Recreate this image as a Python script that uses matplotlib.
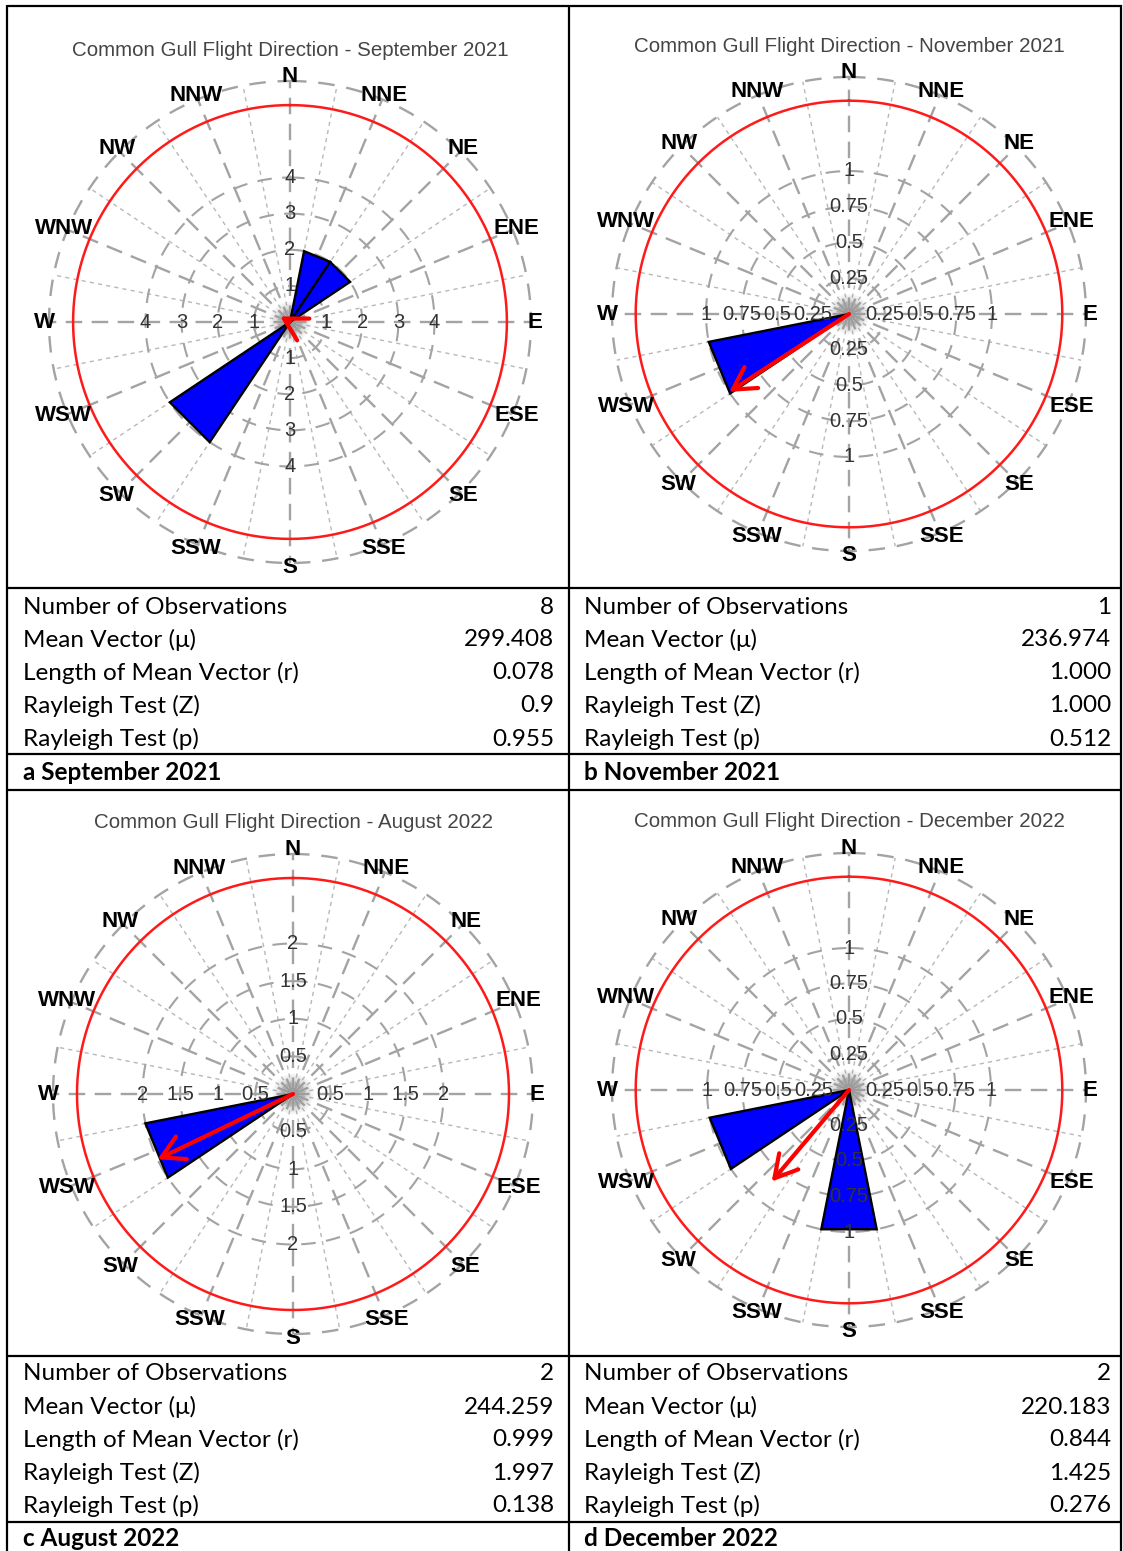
import numpy as np
import matplotlib
matplotlib.use("Agg")
import matplotlib.pyplot as plt
from matplotlib.lines import Line2D
from matplotlib.patches import Circle

# ---------------------------------------------------------------- data
directions = ["N", "NNE", "NE", "ENE", "E", "ESE", "SE", "SSE",
              "S", "SSW", "SW", "WSW", "W", "WNW", "NW", "NNW"]

# observation counts per 22.5 degree sector, in the order of `directions`
counts_sep21 = [0, 2, 2, 0, 0, 0, 0, 0, 0, 0, 4, 0, 0, 0, 0, 0]
counts_nov21 = [0, 0, 0, 0, 0, 0, 0, 0, 0, 0, 0, 1, 0, 0, 0, 0]
counts_aug22 = [0, 0, 0, 0, 0, 0, 0, 0, 0, 0, 0, 2, 0, 0, 0, 0]
counts_dec22 = [0, 0, 0, 0, 0, 0, 0, 0, 1, 0, 0, 1, 0, 0, 0, 0]

# ring values labelled along the N/E/S/W axes
rings_sep21 = [1, 2, 3, 4]
rings_nov21 = [0.25, 0.5, 0.75, 1]
rings_aug22 = [0.5, 1, 1.5, 2]
rings_dec22 = [0.25, 0.5, 0.75, 1]

# circular statistics
stat_names = ["Number of Observations", "Mean Vector (\u03bc)",
              "Length of Mean Vector (r)", "Rayleigh Test (Z)",
              "Rayleigh Test (p)"]
n_obs = [8, 1, 2, 2]
mean_angle = [299.408, 236.974, 244.259, 220.183]
mean_length = [0.078, 1.000, 0.999, 0.844]
rayleigh_z = ["0.9", "1.000", "1.997", "1.425"]
rayleigh_p = ["0.955", "0.512", "0.138", "0.276"]

titles = ["Common Gull Flight Direction - September 2021",
          "Common Gull Flight Direction - November 2021",
          "Common Gull Flight Direction - August 2022",
          "Common Gull Flight Direction - December 2022"]
captions = ["a September 2021", "b November 2021",
            "c August 2022", "d December 2022"]

# ---------------------------------------------------------------- layout
W, H = 1123, 1551
fig = plt.figure(figsize=(W / 100, H / 100), dpi=100)
fig.patch.set_facecolor("white")

def fx(x):
    return x / W

def fy(y):
    return 1 - y / H

panels = [
    # centre x, centre y, outer radius (px), px of outermost ring, title y
    dict(cx=290, cy=322, R=241, ring_px=144.5, ty=50,
         counts=counts_sep21, rings=rings_sep21),
    dict(cx=849, cy=314, R=237, ring_px=143.0, ty=46,
         counts=counts_nov21, rings=rings_nov21),
    dict(cx=293, cy=1094, R=240, ring_px=150.5, ty=823,
         counts=counts_aug22, rings=rings_aug22),
    dict(cx=849, cy=1090, R=237, ring_px=142.0, ty=822,
         counts=counts_dec22, rings=rings_dec22),
]

GRID = "#a3a3a3"
GRID_FINE = "#b8b8b8"
full_circle = np.linspace(0, 2 * np.pi, 721)

for i, p in enumerate(panels):
    R = p["R"]
    rmax = max(p["rings"]) * R / p["ring_px"]
    ax = fig.add_axes([fx(p["cx"] - R), fy(p["cy"] + R), 2 * R / W, 2 * R / H],
                      projection="polar")
    ax.set_theta_zero_location("N")
    ax.set_theta_direction(-1)
    ax.set_ylim(0, rmax)
    ax.grid(False)
    ax.set_xticks([])
    ax.set_yticks([])
    ax.spines["polar"].set_visible(False)
    ax.patch.set_alpha(0)

    # radial grid: long dashes on compass points, fine dashes in between
    for k in range(16):
        th = np.radians(k * 22.5)
        ax.plot([th, th], [0, rmax], color=GRID, lw=1.7,
                linestyle=(0, (7, 4)), zorder=1)
        th2 = np.radians(k * 22.5 + 11.25)
        ax.plot([th2, th2], [0, rmax], color=GRID_FINE, lw=1.0,
                linestyle=(0, (3, 3)), zorder=1)

    # ring grid
    for v in p["rings"]:
        ax.plot(full_circle, np.full_like(full_circle, v), color=GRID,
                lw=1.5, linestyle=(0, (7, 5)), zorder=1)
    ax.plot(full_circle, np.full_like(full_circle, rmax), color=GRID,
            lw=1.7, linestyle=(0, (7, 5)), zorder=1, clip_on=False)

    # red reference circle
    ax.plot(full_circle, np.full_like(full_circle, 0.9 * rmax),
            color="#ff1a1a", lw=1.8, zorder=2)

    # grey hub where the radial lines converge
    for k in range(10):
        ax.add_patch(Circle((0.5, 0.5), 0.042 * (1 - k / 10),
                            transform=ax.transAxes, facecolor="#9a9a9a",
                            edgecolor="none", alpha=0.1, zorder=1.5))

    # sector bars
    width = np.radians(22.5)
    for k, c in enumerate(p["counts"]):
        if c <= 0:
            continue
        th = np.radians(k * 22.5)
        ax.fill([th - width / 2, th - width / 2, th + width / 2],
                [0, c, c], facecolor="#0000ff", edgecolor="black",
                lw=1.7, zorder=3, joinstyle="miter")

    # ring value labels along the four cardinal axes
    for v in p["rings"]:
        for ang in (0, 90, 180, 270):
            ax.text(np.radians(ang), v, f"{v:g}", ha="center", va="center",
                    fontsize=14.5, color="#333333", zorder=6,
                    family="Liberation Sans")

    # mean vector arrow, scaled to the longest sector
    L = mean_length[i] * max(p["counts"])
    ax.annotate("", xy=(np.radians(mean_angle[i]), L), xytext=(0, 0),
                arrowprops=dict(arrowstyle="->,head_length=0.8,head_width=0.45",
                                color="#ff0000", lw=3.0, shrinkA=0, shrinkB=0,
                                mutation_scale=20),
                zorder=5)

    # compass point labels
    for k, name in enumerate(directions):
        ax.text(np.radians(k * 22.5), rmax * 1.017, name, ha="center",
                va="center", fontsize=16, fontweight="bold", color="black",
                family="Liberation Sans", zorder=6, clip_on=False)

    fig.text(fx(p["cx"]), fy(p["ty"]), titles[i], ha="center", va="center",
             fontsize=14.8, color="#454545", family="Liberation Sans")

# ---------------------------------------------------------------- table
TFONT = ["Lato", "DejaVu Sans"]
TSIZE = 17.5

def hline(y, x0=7, x1=1122, lw=1.6):
    fig.add_artist(Line2D([fx(x0), fx(x1)], [fy(y), fy(y)], color="black",
                          lw=lw, solid_capstyle="butt"))

def vline(x, y0=5, y1=H, lw=1.6):
    fig.add_artist(Line2D([fx(x), fx(x)], [fy(y0), fy(y1)], color="black",
                          lw=lw, solid_capstyle="butt"))

for y in (6, 588, 754, 790, 1356, 1522):
    hline(y)
for x in (7, 569, 1121):
    vline(x)

row_y = [[607, 640, 673, 706, 739], [1374, 1407, 1440, 1473, 1506]]
caption_y = [773, 1538]
col_left = [23, 584]
col_right = [554, 1111]

for i in range(4):
    band = i // 2
    col = i % 2
    values = [f"{n_obs[i]}", f"{mean_angle[i]:.3f}", f"{mean_length[i]:.3f}",
              rayleigh_z[i], rayleigh_p[i]]
    for name, val, y in zip(stat_names, values, row_y[band]):
        fig.text(fx(col_left[col]), fy(y), name, ha="left", va="center",
                 fontsize=TSIZE, family=TFONT, color="black")
        fig.text(fx(col_right[col]), fy(y), val, ha="right", va="center",
                 fontsize=TSIZE, family=TFONT, color="black")
    fig.text(fx(col_left[col]), fy(caption_y[band]), captions[i], ha="left",
             va="center", fontsize=TSIZE, family=TFONT, fontweight="bold",
             color="black")

fig.savefig("out.png", dpi=100, facecolor="white")
